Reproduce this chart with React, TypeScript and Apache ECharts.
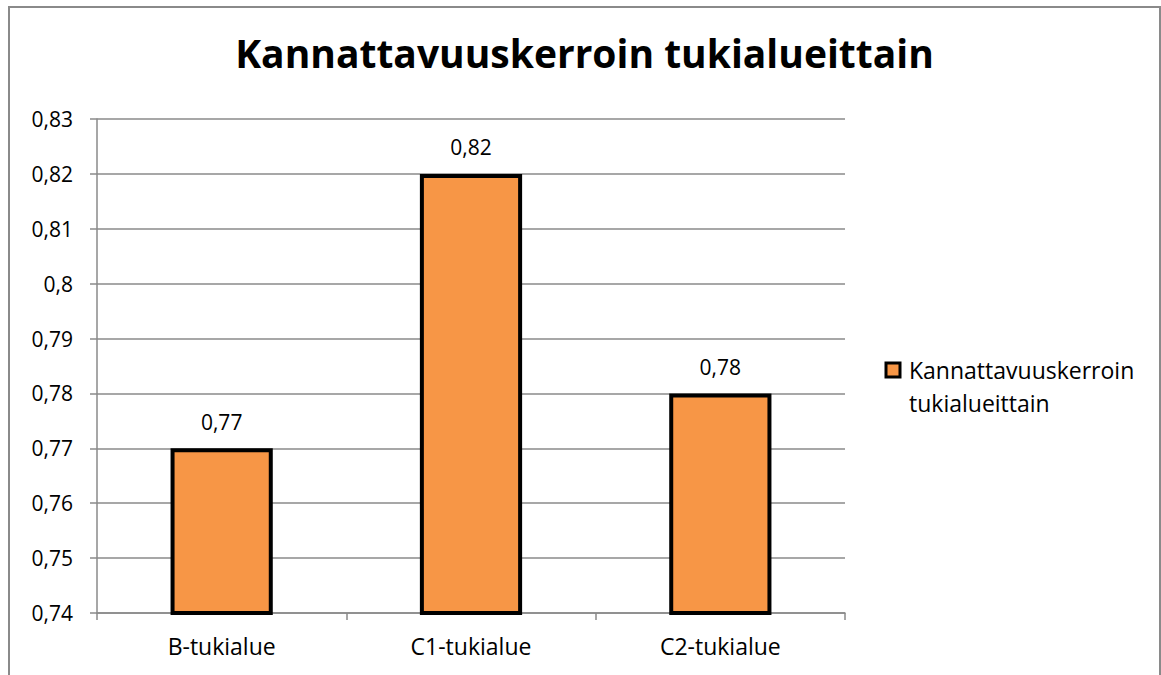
import React, { useEffect, useRef } from "react";
import * as echarts from "echarts";

const categories = ["B-tukialue", "C1-tukialue", "C2-tukialue"];
const values = [0.77, 0.82, 0.78];
const seriesName = "Kannattavuuskerroin tukialueittain";
const titleText = "Kannattavuuskerroin tukialueittain";
const legendLines = ["Kannattavuuskerroin", "tukialueittain"];
const yMin = 0.74;
const yMax = 0.83;
const yStep = 0.01;

const FONT = "'Open Sans', Lato, sans-serif";

const fmt = (v: number) => {
  const s = (Math.round(v * 100) / 100).toString();
  return s.replace(".", ",");
};

export default function App() {
  const ref = useRef<HTMLDivElement>(null);
  useEffect(() => {
    if (!ref.current) return;
    const chart = echarts.init(ref.current, undefined, { renderer: "svg" });
    chart.setOption({
      animation: false,
      backgroundColor: "#ffffff",
      title: {
        text: titleText,
        left: "center",
        top: 22,
        textStyle: {
          fontFamily: FONT,
          fontWeight: "bold",
          fontSize: 39,
          color: "#000000",
        },
      },
      grid: { left: 89, top: 113, width: 748, height: 494 },
      xAxis: {
        type: "category",
        data: categories,
        axisLine: { lineStyle: { color: "#8a8a8a", width: 1.5 } },
        axisTick: { show: true, length: 7, lineStyle: { color: "#8a8a8a", width: 1.5 } },
        axisLabel: {
          margin: 21,
          fontFamily: FONT,
          fontSize: 23,
          color: "#000000",
        },
      },
      yAxis: {
        type: "value",
        min: yMin,
        max: yMax,
        interval: yStep,
        axisLine: { show: true, lineStyle: { color: "#8a8a8a", width: 1.5 } },
        axisTick: { show: true, length: 7, lineStyle: { color: "#8a8a8a", width: 1.5 } },
        splitLine: { show: true, lineStyle: { color: "#8a8a8a", width: 1.5 } },
        axisLabel: {
          margin: 24,
          fontFamily: FONT,
          fontSize: 21,
          color: "#000000",
          formatter: (v: number) => fmt(v),
        },
      },
      series: [
        {
          name: seriesName,
          type: "bar",
          data: values,
          barWidth: "41%",
          itemStyle: {
            color: "#F79646",
            borderColor: "#000000",
            borderWidth: 4,
          },
          label: {
            show: true,
            position: "top",
            distance: 16,
            fontFamily: FONT,
            fontSize: 21,
            color: "#000000",
            formatter: (p: any) => fmt(p.value),
          },
        },
      ],
      graphic: [
        {
          type: "rect",
          shape: { x: 1, y: 1, width: 1151, height: 700 },
          style: { fill: "none", stroke: "#8a8a8a", lineWidth: 2 },
          silent: true,
        },
        {
          type: "rect",
          shape: { x: 878, y: 357, width: 14, height: 14 },
          style: { fill: "#F79646", stroke: "#000000", lineWidth: 3 },
        },
        {
          type: "text",
          x: 901,
          y: 364,
          style: {
            text: legendLines[0],
            fontFamily: FONT,
            fontSize: 23,
            fill: "#000000",
            verticalAlign: "middle",
          },
        },
        {
          type: "text",
          x: 901,
          y: 397,
          style: {
            text: legendLines[1],
            fontFamily: FONT,
            fontSize: 23,
            fill: "#000000",
            verticalAlign: "middle",
          },
        },
      ],
    });
    return () => chart.dispose();
  }, []);
  return (
    <div
      ref={ref}
      style={{ position: "absolute", left: 8, top: 6, width: 1153, height: 669 }}
    />
  );
}
